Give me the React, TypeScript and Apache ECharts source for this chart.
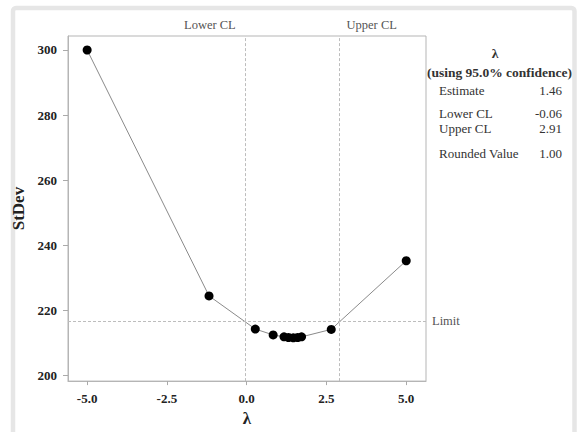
import React, { useEffect, useRef } from "react";
import * as echarts from "echarts";

const lambdaValues = [-5, -1.18, 0.27, 0.83, 1.17, 1.31, 1.46, 1.6, 1.72, 2.65, 5];
const stdevValues = [300.0, 224.4, 214.2, 212.4, 211.8, 211.6, 211.5, 211.6, 211.8, 214.1, 235.2];
const xTicks = [-5, -2.5, 0, 2.5, 5];
const yTicks = [200, 220, 240, 260, 280, 300];
const lowerCL = -0.06;
const upperCL = 2.91;
const limitValue = 216.6;
const tableLabels = ["Estimate", "Lower CL", "Upper CL", "Rounded Value"];
const tableValues = ["1.46", "-0.06", "2.91", "1.00"];
const tableHeader = ["λ", "(using 95.0% confidence)"];

const SERIF = "'Liberation Serif', 'Times New Roman', serif";

export default function App() {
  const ref = useRef<HTMLDivElement>(null);
  useEffect(() => {
    document.body.style.margin = "0";
    const chart = echarts.init(ref.current!, null, { renderer: "svg" });
    const rowY = [90, 113, 128, 153];
    const graphic: any[] = [
      {
        type: "rect",
        shape: { x: 13, y: 8, width: 561.5, height: 440, r: 3 },
        style: { fill: "none", stroke: "#e6e6e6", lineWidth: 4.5 },
        silent: true,
      },
      {
        type: "text",
        x: 495,
        y: 53,
        style: { text: tableHeader[0], font: `bold 13.5px ${SERIF}`, fill: "#333", align: "center", verticalAlign: "middle" },
      },
      {
        type: "text",
        x: 499.5,
        y: 72,
        style: { text: tableHeader[1], font: `bold 13.5px ${SERIF}`, fill: "#333", align: "center", verticalAlign: "middle" },
      },
    ];
    tableLabels.forEach((l, i) => {
      graphic.push({
        type: "text",
        x: 439,
        y: rowY[i],
        style: { text: l, font: `13px ${SERIF}`, fill: "#333", align: "left", verticalAlign: "middle" },
      });
      graphic.push({
        type: "text",
        x: 562,
        y: rowY[i],
        style: { text: tableValues[i], font: `13px ${SERIF}`, fill: "#333", align: "right", verticalAlign: "middle" },
      });
    });

    chart.setOption({
      animation: false,
      backgroundColor: "#fff",
      grid: { left: 68, right: 151, top: 36, bottom: 42, show: true, borderColor: "#b5b5b5", borderWidth: 1 },
      xAxis: {
        type: "value",
        min: -5.6,
        max: 5.62,
        name: "λ",
        nameLocation: "middle",
        nameGap: 20,
        nameTextStyle: { fontFamily: SERIF, fontWeight: "bold", fontSize: 17, color: "#222" },
        axisLine: { show: true, onZero: false, lineStyle: { color: "#b5b5b5" } },
        axisTick: { show: true, customValues: xTicks, length: 4, lineStyle: { color: "#aaa" } },
        axisLabel: {
          customValues: xTicks,
          margin: 11,
          formatter: (v: number) => v.toFixed(1),
          fontFamily: SERIF,
          fontWeight: "bold",
          fontSize: 13,
          color: "#222",
        },
        splitLine: { show: false },
      },
      yAxis: {
        type: "value",
        min: 198.2,
        max: 304.3,
        name: "StDev",
        nameLocation: "middle",
        nameGap: 34,
        nameTextStyle: { fontFamily: SERIF, fontWeight: "bold", fontSize: 17, color: "#222" },
        axisLine: { show: true, onZero: false, lineStyle: { color: "#b5b5b5" } },
        axisTick: { show: true, customValues: yTicks, length: 5, lineStyle: { color: "#aaa" } },
        axisLabel: {
          customValues: yTicks,
          margin: 11,
          formatter: (v: number) => String(v),
          fontFamily: SERIF,
          fontWeight: "bold",
          fontSize: 13,
          color: "#222",
        },
        splitLine: { show: false },
      },
      series: [
        {
          type: "line",
          data: lambdaValues.map((x, i) => [x, stdevValues[i]]),
          symbol: "circle",
          symbolSize: 9,
          itemStyle: { color: "#000" },
          lineStyle: { color: "#8a8a8a", width: 1 },
          markLine: {
            silent: true,
            symbol: "none",
            lineStyle: { color: "#bdbdbd", type: [3, 2], width: 1 },
            data: [
              { xAxis: lowerCL, label: { show: false } },
              { xAxis: upperCL, label: { show: false } },
              {
                yAxis: limitValue,
                label: {
                  show: true,
                  position: "end",
                  distance: 6,
                  formatter: "Limit",
                  fontFamily: SERIF,
                  fontSize: 12.5,
                  color: "#555",
                },
              },
            ],
          },
        },
      ],
      graphic,
    });

    const lx = chart.convertToPixel({ xAxisIndex: 0 }, lowerCL) as number;
    const ux = chart.convertToPixel({ xAxisIndex: 0 }, upperCL) as number;
    chart.setOption({
      graphic: [
        ...graphic,
        {
          type: "text",
          x: lx - 9,
          y: 25,
          style: { text: "Lower CL", font: `12.5px ${SERIF}`, fill: "#555", align: "right", verticalAlign: "middle" },
        },
        {
          type: "text",
          x: ux + 7,
          y: 25,
          style: { text: "Upper CL", font: `12.5px ${SERIF}`, fill: "#555", align: "left", verticalAlign: "middle" },
        },
      ],
    });

    return () => chart.dispose();
  }, []);
  return <div ref={ref} style={{ position: "absolute", left: 0, top: 0, width: 577, height: 432 }} />;
}
